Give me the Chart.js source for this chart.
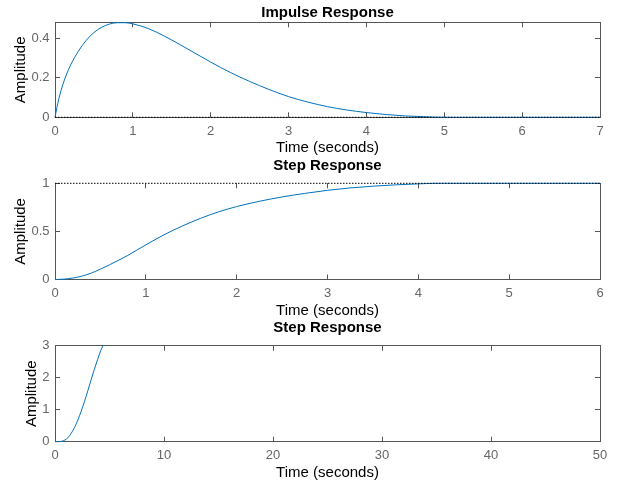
<!DOCTYPE html>
<html><head><meta charset="utf-8">
<script src="https://cdn.jsdelivr.net/npm/chart.js@4/dist/chart.umd.min.js"></script>
<style>
html,body{margin:0;padding:0;background:#fff;}
#wrap{position:relative;width:628px;height:498px;background:#fff;}
canvas{position:absolute;left:0;top:0;}
</style></head><body>
<div id="wrap">
<canvas id="c1" width="628" height="498" style="width:628px;height:498px"></canvas>
<canvas id="c2" width="628" height="498" style="width:628px;height:498px"></canvas>
<canvas id="c3" width="628" height="498" style="width:628px;height:498px"></canvas>
</div>
<script>
// ---- Data ----
const impulseTime = [0, 0.025, 0.05, 0.1, 0.15, 0.2, 0.3, 0.4, 0.5, 0.6, 0.7, 0.8, 0.9, 1.0, 1.2, 1.4, 1.6, 1.8, 2.0, 2.25, 2.5, 2.75, 3.0, 3.25, 3.5, 3.75, 4.0, 4.25, 4.5, 4.75, 5.0, 6.0, 7.0];
const impulseAmp  = [0, 0.05, 0.095, 0.165, 0.22, 0.265, 0.335, 0.39, 0.43, 0.457, 0.473, 0.48, 0.48, 0.474, 0.45, 0.413, 0.37, 0.325, 0.28, 0.228, 0.182, 0.141, 0.105, 0.077, 0.054, 0.037, 0.024, 0.014, 0.007, 0.003, 0, 0, 0];
const impulseFinalTime = [0, 7];
const impulseFinalAmp  = [0, 0];

const stepTime = [0, 0.1, 0.2, 0.3, 0.4, 0.5, 0.6, 0.7, 0.8, 0.9, 1.0, 1.2, 1.4, 1.6, 1.8, 2.0, 2.25, 2.5, 2.75, 3.0, 3.25, 3.5, 3.75, 4.0, 4.2, 5.0, 6.0];
const stepAmp  = [0, 0.004, 0.016, 0.036, 0.067, 0.108, 0.153, 0.2, 0.25, 0.305, 0.36, 0.465, 0.555, 0.635, 0.703, 0.758, 0.813, 0.858, 0.895, 0.927, 0.952, 0.97, 0.984, 0.994, 1.0, 1.0, 1.0];
const stepFinalTime = [0, 6];
const stepFinalAmp  = [1, 1];

const step2Time = [0, 0.3, 0.6, 0.9, 1.2, 1.5, 1.8, 2.1, 2.4, 2.7, 3.0, 3.3, 3.6, 3.9, 4.2, 4.4];
const step2Amp  = [0, 0.002, 0.012, 0.05, 0.13, 0.27, 0.45, 0.68, 0.95, 1.25, 1.58, 1.92, 2.25, 2.56, 2.85, 3.0];

const impulseXTicks = [0, 1, 2, 3, 4, 5, 6, 7];
const impulseYTicks = [0, 0.2, 0.4];
const stepXTicks = [0, 1, 2, 3, 4, 5, 6];
const stepYTicks = [0, 0.5, 1];
const step2XTicks = [0, 10, 20, 30, 40, 50];
const step2YTicks = [0, 1, 2, 3];

const titles = ['Impulse Response', 'Step Response', 'Step Response'];
const xLabel = 'Time (seconds)';
const yLabel = 'Amplitude';

// ---- Styling ----
const FAMILY = '"Liberation Sans", Arial, Helvetica, sans-serif';
const AX = '#555555';
const TICK = '#666666';
const BLUE = '#0072BD';

function pts(xs, ys) { return xs.map((x, i) => ({x: x, y: ys[i]})); }
function setTicks(arr) { return s => { s.ticks = arr.map(v => ({value: v})); }; }

function scales(xr, xTicks, yr, yTicks, o) {
  const grid = {display: true, drawOnChartArea: false, drawTicks: true, tickLength: -5, tickColor: AX, tickWidth: 1};
  const border = {display: true, color: AX, width: 1};
  const tickFont = {family: FAMILY, size: 13};
  return {
    x: {type: 'linear', position: 'bottom', min: xr[0], max: xr[1], grid: grid, border: border,
        afterBuildTicks: setTicks(xTicks), afterFit: s => { s.height = 40; },
        ticks: {padding: 11, color: TICK, font: tickFont, autoSkip: false, maxRotation: 0, minRotation: 0, callback: v => String(v)},
        title: {display: true, text: xLabel, color: '#000', font: {family: FAMILY, size: 15}, padding: 0}},
    y: {type: 'linear', position: 'left', min: yr[0], max: yr[1], grid: grid, border: border,
        afterBuildTicks: setTicks(yTicks), afterFit: s => { s.width = 28; },
        ticks: {padding: 10.5, color: TICK, font: tickFont, callback: v => String(v)},
        title: {display: true, text: yLabel, color: '#000', font: {family: FAMILY, size: 15}, padding: {top: o.yTitlePad, bottom: 0}}},
    x2: {type: 'linear', position: 'top', min: xr[0], max: xr[1], grid: grid,
        border: {display: o.topBorder, color: AX, width: 1},
        afterBuildTicks: setTicks(xTicks), afterFit: s => { s.height = 0; },
        ticks: {display: false}},
    y2: {type: 'linear', position: 'right', min: yr[0], max: yr[1], grid: grid, border: border,
        afterBuildTicks: setTicks(yTicks), afterFit: s => { s.width = 28; },
        ticks: {display: false}}
  };
}

function make(id, title, datasets, sc, lay) {
  new Chart(document.getElementById(id), {
    type: 'line',
    data: {datasets: datasets},
    options: {
      responsive: false, animation: false, devicePixelRatio: 1,
      layout: {padding: {top: lay.top, bottom: lay.bottom, left: 27, right: 0}},
      plugins: {
        legend: {display: false}, tooltip: {enabled: false},
        title: {display: true, text: title, color: '#000', font: {family: FAMILY, size: 15, weight: 'bold'},
                padding: {top: lay.titleTop, bottom: lay.titleBottom}}
      },
      elements: {point: {radius: 0}},
      scales: sc
    }
  });
}

function curve(xs, ys) {
  return {data: pts(xs, ys), borderColor: BLUE, borderWidth: 1, cubicInterpolationMode: 'monotone', order: 1, clip: 2};
}
function dotted(xs, ys) {
  return {data: pts(xs, ys), borderColor: '#000', borderWidth: 1, borderDash: [1.5, 1.5], order: 0, clip: 2};
}

make('c1', titles[0],
  [dotted(impulseFinalTime, impulseFinalAmp), curve(impulseTime, impulseAmp)],
  scales([0, 7], impulseXTicks, [0, 0.482], impulseYTicks, {yTitlePad: -15.3, topBorder: true}),
  {top: 0, bottom: 340.7, titleTop: 3.5, titleBottom: 0.8});

make('c2', titles[1],
  [dotted(stepFinalTime, stepFinalAmp), curve(stepTime, stepAmp)],
  scales([0, 6], stepXTicks, [0, 1], stepYTicks, {yTitlePad: -15.5, topBorder: false}),
  {top: 153.3, bottom: 178.5, titleTop: 3.5, titleBottom: 8.5});

make('c3', titles[2],
  [curve(step2Time, step2Amp)],
  scales([0, 50], step2XTicks, [0, 3], step2YTicks, {yTitlePad: -3.8, topBorder: true}),
  {top: 315.7, bottom: 16.3, titleTop: 3.5, titleBottom: 8.5});
</script>
</body></html>
